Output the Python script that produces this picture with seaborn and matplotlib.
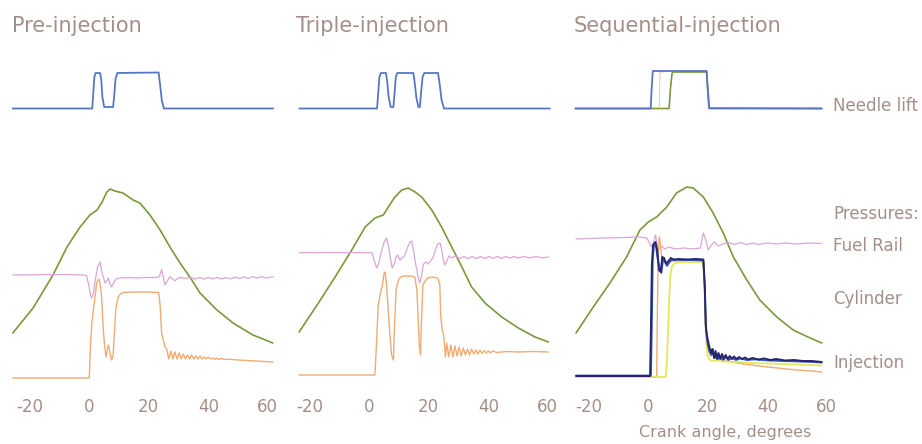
import numpy as np
import pandas as pd
import matplotlib
matplotlib.use("Agg")
import matplotlib.pyplot as plt
import seaborn as sns

# ---------------- data (crank angle in degrees, signal level in arbitrary units) ----------------
panel_titles = ["Pre-injection", "Triple-injection", "Sequential-injection"]
tick_values = [-20, 0, 20, 40, 60]
tick_labels = ["-20", "0", "20", "40", "60"]
row_labels = ["Needle lift", "Pressures:", "Fuel Rail", "Cylinder", "Injection"]
x_label = "Crank angle, degrees"

# Pre-injection
pre_needle = [(-26, 276.5), (1.0, 276.5), (1.3, 290), (1.7, 308), (2.1, 312), (3.6, 312), (4.0, 306),
              (4.4, 288), (5.0, 278), (8.0, 278), (8.4, 290), (8.8, 306), (9.4, 312), (23.3, 312.5),
              (23.8, 300), (24.4, 284), (25.1, 276.5), (61.8, 276.5)]
pre_cylinder = [(-25.7, 52), (-18.9, 77), (-12.2, 110), (-7.5, 138), (-3.1, 158), (0.2, 170), (2.6, 175),
                (4.3, 183), (5.9, 193), (7.0, 196), (8.6, 194), (11.3, 192), (14.7, 185), (17.0, 182),
                (20.4, 170), (23.8, 155), (27.1, 138), (30.5, 122), (33.8, 108), (37.2, 92), (42.9, 75),
                (48.3, 62), (55.0, 50), (61.7, 42)]
pre_rail = [(-25.7, 110), (-10, 110.5), (-2, 110), (-0.9, 109.5), (-0.2, 100), (0.4, 90), (0.8, 87),
            (1.4, 92), (2.0, 105), (2.8, 118), (3.6, 123), (4.3, 112), (5.3, 102), (5.9, 104), (6.4, 107),
            (7.0, 101), (7.5, 98), (8.3, 103), (9.2, 106.5), (10.5, 107), (13, 107.5), (16, 107),
            (19, 107.5), (22, 107.5), (23.5, 108), (24.3, 115.5), (24.8, 109), (25.4, 100), (26.2, 104),
            (27.1, 108.3), (28, 106), (28.8, 104.3), (29.7, 106.5), (30.5, 107.7), (32, 106.5),
            (34, 107.5), (35.5, 106), (37, 107.5), (38.5, 106), (40, 107.5), (41.5, 106), (43, 107.5),
            (44.5, 106), (46, 107.5), (47.5, 106), (49, 108), (50.5, 106.5), (52, 108), (53.5, 106.5),
            (55, 108.5), (56.5, 107), (58, 108.5), (59.5, 107), (61.8, 108.3)]
pre_injection = [(-25.7, 7), (0.0, 7), (0.4, 40), (0.8, 60), (1.3, 73), (2.0, 90), (2.5, 102), (3.1, 106),
                 (3.4, 105), (3.9, 95), (4.2, 85), (4.7, 55), (5.2, 38), (5.6, 28), (6.0, 35), (6.4, 40),
                 (6.9, 33), (7.5, 25), (8.0, 30), (8.3, 45), (8.7, 65), (9.0, 78), (9.7, 88), (10.5, 91),
                 (11.4, 92.5), (14.8, 93), (20, 93), (23.3, 92.5), (23.8, 80), (24.3, 52), (24.9, 45),
                 (25.4, 38), (26.0, 36), (26.7, 26), (27.4, 34), (28.1, 26), (28.8, 33), (29.5, 26),
                 (30.2, 32), (30.9, 26), (31.6, 31), (32.3, 26), (33.0, 30), (33.7, 26), (34.4, 30),
                 (35.1, 26), (35.8, 29), (36.5, 26), (37.2, 29), (37.9, 26), (38.6, 28), (39.3, 26),
                 (40.0, 28), (40.7, 26), (41.4, 27), (42.1, 25.5), (42.8, 27), (43.5, 25.5), (44.5, 26.5),
                 (45.5, 25.5), (47, 25.8), (50, 25), (53, 24.5), (56, 24), (59, 23.5), (61.8, 23)]

# Triple-injection
triple_needle = [(-23.5, 276.5), (2.6, 276.5), (3.0, 292), (3.4, 308), (3.9, 312), (5.6, 312), (6.0, 304),
                 (6.5, 288), (7.2, 278), (8.1, 278), (8.5, 292), (8.9, 308), (9.4, 312), (14.8, 312),
                 (15.2, 304), (15.8, 288), (16.5, 278), (17.0, 278), (17.4, 292), (17.9, 308), (18.5, 312),
                 (23.1, 312), (23.6, 302), (24.3, 285), (25.1, 276.5), (60.7, 276.5)]
triple_cylinder = [(-23.6, 53), (-17.1, 82), (-11.5, 108), (-5.9, 135), (-1.4, 158), (1.9, 167), (4.7, 170),
                   (6.4, 178), (8.6, 188), (10.9, 195), (13.1, 197), (15.4, 193), (17.6, 188), (21.0, 175),
                   (24.3, 158), (27.7, 138), (31.1, 118), (34.4, 98), (38.9, 82), (44.5, 68), (50.1, 57),
                   (55.7, 48), (60.2, 43)]
triple_rail = [(-23.6, 132.3), (-10, 132.5), (0, 132.3), (1.0, 132), (1.7, 124), (2.5, 117), (3.2, 122),
               (4.0, 133), (5.0, 143), (5.8, 147), (6.5, 138), (7.2, 125), (7.7, 117), (8.4, 121), (9.0, 128),
               (9.5, 130), (10.3, 125), (11.0, 127), (12.0, 130), (12.8, 137), (13.5, 142), (14.2, 144),
               (14.8, 136), (15.4, 124), (15.9, 116), (16.5, 106), (17.0, 102), (17.6, 110), (18.2, 121),
               (19.0, 123), (19.8, 121), (20.6, 124), (21.5, 128), (22.3, 136), (23.0, 141), (23.8, 142),
               (24.5, 133), (25.0, 123), (25.4, 120), (26.0, 124), (26.8, 129), (27.7, 127), (29.0, 129),
               (30.4, 126.5), (31.8, 128.5), (33.2, 126.5), (34.6, 128.5), (36.0, 126.5), (37.4, 128.5),
               (38.8, 126.5), (40.2, 128.5), (41.6, 126.5), (43.0, 128.5), (44.4, 126.5), (45.8, 128.5),
               (47.2, 127), (48.6, 128.5), (50.0, 127), (52, 128.5), (54, 127), (56, 128.5), (58, 127),
               (60.2, 128)]
triple_injection = [(-23.6, 10), (1.9, 10), (2.4, 40), (3.0, 80), (3.6, 90), (4.4, 100), (5.0, 112),
                    (5.3, 113), (5.8, 100), (6.3, 78), (6.8, 55), (7.5, 30), (8.1, 25), (8.5, 60), (9.0, 95),
                    (9.7, 104), (10.5, 108), (12.0, 109), (14.0, 109), (15.3, 108), (16.0, 95), (16.3, 75),
                    (16.8, 40), (17.2, 30), (17.5, 60), (18.0, 100), (18.8, 104), (19.5, 107), (21.0, 108),
                    (23.0, 107), (23.7, 100), (24.0, 70), (24.5, 55), (25.0, 50), (25.6, 28), (26.0, 42),
                    (26.7, 28), (27.4, 40), (28.1, 28), (28.8, 39), (29.5, 29), (30.2, 38), (30.9, 29),
                    (31.6, 37), (32.3, 30), (33.0, 36), (33.7, 30), (34.4, 36), (35.1, 31), (35.8, 35),
                    (36.5, 31), (37.2, 35), (37.9, 31.5), (38.6, 34.5), (39.3, 32), (40.0, 34), (40.7, 32),
                    (41.5, 34), (43, 32.5), (46, 33.5), (50, 33), (55, 33.5), (60.2, 33)]

# Sequential-injection
seq_needle_green = [(-24.5, 276.5), (7.0, 276.5), (7.4, 295), (8.0, 312), (8.4, 313), (19.6, 313),
                    (20.0, 295), (20.4, 277), (58.3, 276.5)]
seq_needle_orange = [(3.7, 277), (3.8, 300), (3.9, 313), (5.0, 313)]
seq_needle_blue = [(-24.5, 276.5), (0.8, 276.5), (1.1, 295), (1.5, 314), (19.6, 314), (20.0, 295),
                   (20.5, 276.5), (58.3, 276.5)]
seq_cylinder = [(-24.3, 52), (-18.5, 78), (-12.9, 102), (-7.3, 128), (-2.8, 155), (0, 163), (2.8, 168),
                (6.2, 178), (9.5, 192), (12.9, 198), (15.1, 197), (18.5, 188), (21.8, 172), (25.2, 152),
                (28.6, 128), (33.1, 105), (37.5, 85), (43.2, 68), (48.7, 55), (54.4, 47), (58.3, 42)]
seq_rail = [(-24.3, 146), (-15, 147), (-8, 147.5), (-3, 148), (-0.5, 147), (0.4, 142), (1.0, 138), (1.8, 143),
            (2.4, 150), (3.0, 140), (3.6, 136), (4.5, 139), (5.5, 136), (7, 138), (9, 136), (12, 137), (15, 136),
            (17.5, 137), (18.5, 152), (19.3, 145), (20.2, 135), (21.2, 140), (22.2, 143), (23.5, 139),
            (25, 141), (27, 142.5), (29, 140.5), (31, 142.5), (33, 140.5), (35, 142), (37, 140.5), (40, 142),
            (43, 141), (46, 142), (50, 141), (54, 142), (58.3, 141.5)]
seq_inj_orange = [(-24.3, 8), (2.8, 8), (3.0, 60), (3.3, 130), (3.7, 148), (4.1, 140), (4.6, 125), (5.5, 122),
                  (7, 124), (10, 124), (18.5, 124), (19.0, 90), (19.5, 50), (20.2, 35), (21, 29), (22, 31),
                  (23, 27), (24, 28), (25.5, 25), (28, 23), (32, 21), (36, 19.5), (40, 18), (45, 16.5),
                  (50, 15), (55, 14), (58.3, 13)]
seq_inj_yellow = [(-24.3, 8), (5.8, 8), (6.2, 20), (6.6, 50), (7.0, 85), (7.4, 110), (8.0, 119), (9.0, 122),
                  (12, 123), (18.5, 123), (19.0, 80), (19.4, 45), (19.9, 30), (20.6, 25), (21.5, 24), (23, 24.5),
                  (25, 23.5), (30, 23), (35, 22), (40, 21.5), (45, 21), (50, 20.5), (55, 20), (58.3, 19.5)]
seq_inj_blue = [(-24.3, 9.5), (0.9, 9.5), (1.2, 60), (1.5, 125), (1.9, 140), (2.6, 138), (3.2, 125),
                (3.8, 117), (4.4, 112), (5.0, 126), (5.6, 124), (6.3, 119), (7.2, 123), (8.2, 126), (10, 125),
                (14, 125), (18.5, 124.5), (19.0, 95), (19.4, 55), (20.0, 40), (20.6, 33), (21.2, 30),
                (21.8, 33), (22.4, 27), (23.0, 31), (23.6, 26), (24.3, 29), (25, 25), (26, 28), (27, 25),
                (28, 27), (29.5, 25), (31, 26.5), (33, 25), (36, 25.5), (40, 24.5), (45, 24), (50, 23.5),
                (55, 23), (58.3, 22.5)]
seq_inj_navy = [(-24.3, 9), (0.6, 9), (0.9, 60), (1.2, 120), (1.6, 140), (2.4, 143), (3.0, 135), (3.6, 115),
                (4.2, 113), (4.7, 128), (5.3, 127), (6.0, 121), (6.8, 124), (7.6, 127), (8.5, 125), (10, 126),
                (13, 125.5), (16, 126), (18.5, 125.5), (19.0, 100), (19.3, 60), (19.7, 50), (20.2, 42),
                (20.7, 36), (21.2, 32), (21.6, 36), (22.1, 27), (22.6, 34), (23.1, 26), (23.6, 32), (24.2, 26),
                (24.8, 31), (25.4, 26), (26.0, 30), (26.7, 26), (27.4, 29), (28.1, 26), (28.8, 28.5),
                (29.6, 26), (30.5, 28), (31.5, 26), (32.5, 27.5), (33.5, 25.5), (35, 27), (37, 25.5),
                (39, 26.5), (41, 25), (43, 26), (46, 24.5), (49, 25), (52, 24), (55, 24), (58.3, 23)]

# ---------------- styling ----------------
TEXT = "#a48f88"
GREEN = "#789a3c"
PINK = "#dba6d8"
ORANGE = "#f3ab72"
NEEDLE = "#5577c4"
NAVY = "#26266a"
BLUE = "#3a56c8"
YELLOW = "#e4ea55"

sns.set_style("white")
plt.rcParams["font.family"] = ["DejaVu Sans"]

W, H = 922, 444
fig = plt.figure(figsize=(W / 100, H / 100), dpi=100)

px_per_deg = 2.975
zero_px = [89.3, 369.3, 648.3]
xlim = (-26, 63)
ax_top_px, ax_bot_px = 55, 385

panels = [
    [(pre_needle, NEEDLE, 1.3), (pre_cylinder, GREEN, 1.2), (pre_rail, PINK, 0.9), (pre_injection, ORANGE, 1.0)],
    [(triple_needle, NEEDLE, 1.3), (triple_cylinder, GREEN, 1.2), (triple_rail, PINK, 0.9),
     (triple_injection, ORANGE, 1.0)],
    [(seq_needle_green, GREEN, 1.2), (seq_needle_orange, "#f5c9a0", 0.8), (seq_needle_blue, NEEDLE, 1.3),
     (seq_cylinder, GREEN, 1.2), (seq_rail, PINK, 0.9), (seq_inj_orange, ORANGE, 1.0),
     (seq_inj_yellow, YELLOW, 1.3), (seq_inj_blue, BLUE, 1.3), (seq_inj_navy, NAVY, 1.4)],
]

for i, series in enumerate(panels):
    left_px = zero_px[i] + xlim[0] * px_per_deg
    width_px = (xlim[1] - xlim[0]) * px_per_deg
    ax = fig.add_axes([left_px / W, (H - ax_bot_px) / H, width_px / W, (ax_bot_px - ax_top_px) / H])
    for pts, color, lw in series:
        df = pd.DataFrame(pts, columns=["angle", "level"])
        sns.lineplot(data=df, x="angle", y="level", ax=ax, color=color, linewidth=lw,
                     estimator=None, sort=False)
    ax.set_xlim(*xlim)
    ax.set_ylim(0, ax_bot_px - ax_top_px)
    ax.set_xticks(tick_values)
    ax.set_xticklabels(tick_labels)
    ax.tick_params(axis="x", length=0, pad=9, labelsize=12, labelcolor=TEXT)
    ax.set_yticks([])
    ax.set_xlabel("")
    ax.set_ylabel("")
    for s in ax.spines.values():
        s.set_visible(False)
    ax.patch.set_alpha(0)

def ftext(xp, yp, s, **kw):
    fig.text(xp / W, (H - yp) / H, s, color=TEXT, **kw)

title_x = [12, 296, 574]
for tx, t in zip(title_x, panel_titles):
    ftext(tx, 32, t, fontsize=15, ha="left", va="baseline")

label_y = [111, 219, 251, 304, 368]
for ly, t in zip(label_y, row_labels):
    ftext(833, ly, t, fontsize=12, ha="left", va="baseline")

ftext(725, 437, x_label, fontsize=11.5, ha="center", va="baseline")

fig.savefig("out.png", dpi=100, facecolor="white")
